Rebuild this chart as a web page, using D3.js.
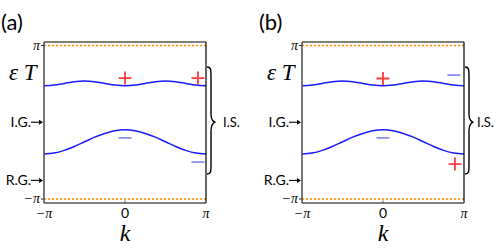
<!DOCTYPE html>
<html lang="en">
<head>
    <meta charset="UTF-8">
    <title>Bands</title>
    <script src="https://cdn.jsdelivr.net/npm/d3@7"></script>
    <style>
        body{ margin: 0; background: #fff; }
        .sans{ font-family: Lato, "Open Sans", sans-serif; }
        .serif{ font-family: "Liberation Serif", "DejaVu Serif", serif; font-style: italic; }
    </style>
</head>
<body>
    <svg id="main-svg" width="498" height="249"></svg>

    <script>
        const PI = Math.PI;

        // k sample positions, in units of pi
        const kSamples = [-1, -0.875, -0.75, -0.625, -0.5, -0.375, -0.25, -0.125, 0,
                          0.125, 0.25, 0.375, 0.5, 0.625, 0.75, 0.875, 1];
        // band energies
        const upperBand = [1.49, 1.52, 1.59, 1.66, 1.69, 1.66, 1.59, 1.52, 1.49,
                           1.52, 1.59, 1.66, 1.69, 1.66, 1.59, 1.52, 1.49];
        const lowerBand = [-1.30, -1.26, -1.15, -0.99, -0.80, -0.61, -0.46, -0.35, -0.31,
                           -0.35, -0.46, -0.61, -0.80, -0.99, -1.15, -1.26, -1.30];

        const xTicks = [-PI, 0, PI];
        const xTickLabels = ['\u2212\u03c0', '0', '\u03c0'];
        const yTicks = [PI, -PI];
        const yTickLabels = ['\u03c0', '\u2212\u03c0'];

        // parity markers: [k, energy, sign]
        const markersA = [[0, 1.81, '+'], [2.83, 1.81, '+'], [0, -0.64, '-'], [2.83, -1.63, '-']];
        const markersB = [[0, 1.79, '+'], [2.75, 1.93, '-'], [0, -0.64, '-'], [2.79, -1.71, '+']];

        const gapLabels = [['I.G.', 0], ['R.G.', -2.38]];

        let svg = d3.select('#main-svg');

        let x = d3.scaleLinear().domain([-PI, PI]).range([0, 162]);
        let y = d3.scaleLinear().domain([-PI, PI]).range([153.5, 0]);
        const frameTop = -3.5, frameBottom = 157.5;

        let drawPanel = (ox, oy, letter, markers, isX) => {
            let g = svg.append('g').attr('transform', `translate(${ox},${oy})`);

            // orange dotted lines at +-pi
            g.selectAll('.pi-line')
                .data(yTicks)
                .enter()
                .append('line')
                .attr('x1', 0).attr('x2', x.range()[1])
                .attr('y1', d => y(d)).attr('y2', d => y(d))
                .style('stroke', '#ff8c00')
                .style('stroke-width', 1.4)
                .style('stroke-dasharray', '2.2,1.8');

            // bands
            let line = d3.line()
                .x((d, i) => x(kSamples[i] * PI))
                .y(d => y(d))
                .curve(d3.curveCatmullRom);
            [upperBand, lowerBand].forEach(band => {
                g.append('path')
                    .attr('d', line(band))
                    .style('fill', 'none')
                    .style('stroke', '#1a1aff')
                    .style('stroke-width', 1.5);
            });

            // frame
            g.append('line').attr('x1', 0).attr('x2', 162).attr('y1', frameTop).attr('y2', frameTop)
                .style('stroke', '#000').style('stroke-width', 1.2);
            g.append('line').attr('x1', 162).attr('x2', 162).attr('y1', frameTop).attr('y2', frameBottom)
                .style('stroke', '#000').style('stroke-width', 1.2);
            g.append('line').attr('x1', 0).attr('x2', 0).attr('y1', frameTop).attr('y2', frameBottom)
                .style('stroke', '#555').style('stroke-width', 1.6);
            g.append('line').attr('x1', 0).attr('x2', 162).attr('y1', frameBottom).attr('y2', frameBottom)
                .style('stroke', '#555').style('stroke-width', 1.6);

            // ticks
            g.append('line').attr('x1', x(0)).attr('x2', x(0)).attr('y1', frameBottom).attr('y2', frameBottom - 2.5)
                .style('stroke', '#555').style('stroke-width', 1);
            g.selectAll('.ytick')
                .data(yTicks)
                .enter()
                .append('line')
                .attr('x1', -3).attr('x2', 0)
                .attr('y1', d => y(d)).attr('y2', d => y(d))
                .style('stroke', '#333').style('stroke-width', 1);

            g.selectAll('.xlab')
                .data(xTicks)
                .enter()
                .append('text')
                .attr('class', (d, i) => i === 1 ? 'sans' : 'serif')
                .attr('x', d => x(d))
                .attr('y', frameBottom + 15)
                .attr('text-anchor', 'middle')
                .style('font-size', '14px')
                .style('font-style', (d, i) => i === 1 ? 'normal' : 'italic')
                .text((d, i) => xTickLabels[i]);

            g.selectAll('.ylab')
                .data(yTicks)
                .enter()
                .append('text')
                .attr('class', 'serif')
                .attr('x', -4)
                .attr('y', d => y(d) + 4)
                .attr('text-anchor', 'end')
                .style('font-size', '14px')
                .text((d, i) => yTickLabels[i]);

            // axis titles
            g.append('text').attr('class', 'serif')
                .attr('x', x(0)).attr('y', frameBottom + 38)
                .attr('text-anchor', 'middle')
                .style('font-size', '24px')
                .text('k');
            g.append('text').attr('class', 'serif')
                .attr('x', -35).attr('y', 34)
                .style('font-size', '23px')
                .text('\u03b5 T');

            // gap labels with arrows
            gapLabels.forEach(([lab, e]) => {
                let yy = y(e);
                g.append('text').attr('class', 'sans')
                    .attr('x', -13).attr('y', yy + 5)
                    .attr('text-anchor', 'end')
                    .style('font-size', '14px')
                    .text(lab);
                g.append('line').attr('x1', -13).attr('x2', -4).attr('y1', yy).attr('y2', yy)
                    .style('stroke', '#000').style('stroke-width', 1.1);
                g.append('path').attr('d', `M-1,${yy} L-5,${yy - 2.5} L-5,${yy + 2.5} Z`)
                    .style('fill', '#000');
            });

            // brace on the right
            let bx = 163, bt = 21.5, bb = 128.5, bm = y(0), bw = 7;
            let brace = `M${bx},${bt} C${bx + 4},${bt} ${bx + bw - 3},${bt + 2} ${bx + bw - 3},${bt + 10}` +
                ` L${bx + bw - 3},${bm - 8} C${bx + bw - 3},${bm - 2} ${bx + bw},${bm} ${bx + bw + 1.5},${bm}` +
                ` C${bx + bw},${bm} ${bx + bw - 3},${bm + 2} ${bx + bw - 3},${bm + 8}` +
                ` L${bx + bw - 3},${bb - 10} C${bx + bw - 3},${bb - 2} ${bx + 4},${bb} ${bx},${bb}`;
            g.append('path').attr('d', brace)
                .style('fill', 'none').style('stroke', '#000').style('stroke-width', 1.4);
            g.append('text').attr('class', 'sans')
                .attr('x', isX).attr('y', bm + 5)
                .style('font-size', '13px')
                .text('I.S.');

            // parity markers
            markers.forEach(([k, e, s]) => {
                let cx = x(k), cy = y(e);
                if(s === '+'){
                    g.append('path').attr('d', `M${cx - 6.5},${cy} H${cx + 6.5} M${cx},${cy - 6.5} V${cy + 6.5}`)
                        .style('stroke', '#ff3b3b').style('stroke-width', 1.8).style('fill', 'none');
                }else{
                    g.append('path').attr('d', `M${cx - 6.5},${cy} H${cx + 6.5}`)
                        .style('stroke', '#8a8ff5').style('stroke-width', 1.8).style('fill', 'none');
                }
            });

            // panel letter
            svg.append('text').attr('class', 'sans')
                .attr('x', ox - 43).attr('y', oy - 16)
                .style('font-size', '22px')
                .text(`(${letter})`);
        };

        drawPanel(44, 45.5, 'a', markersA, 179);
        drawPanel(302, 45.5, 'b', markersB, 175);
    </script>
</body>
</html>
